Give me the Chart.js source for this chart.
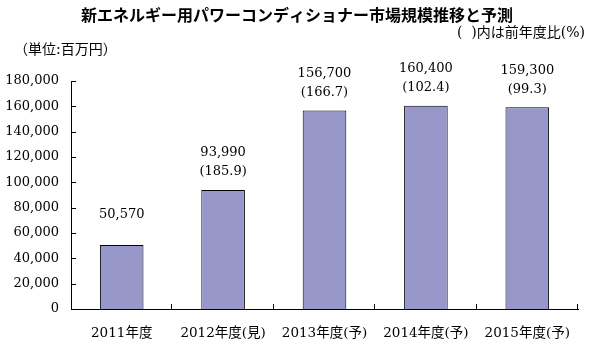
<!DOCTYPE html>
<html>
<head>
<meta charset="utf-8">
<script src="https://cdn.jsdelivr.net/npm/chart.js@4.4.0/dist/chart.umd.min.js"></script>
<style>
  html, body { margin: 0; padding: 0; background: #fff; }
  #wrap { width: 595px; height: 345px; position: relative; }
</style>
</head>
<body>
<div id="wrap"><canvas id="c" width="595" height="345"></canvas></div>
<script>
const titleText = '新エネルギー用パワーコンディショナー市場規模推移と予測';
const unitText = '（単位:百万円）';
const noteText = '(  )内は前年度比(%)';
const categories = ['2011年度', '2012年度(見)', '2013年度(予)', '2014年度(予)', '2015年度(予)'];
const marketSize = [50570, 93990, 156700, 160400, 159300];
const yoyRatio = [null, 185.9, 166.7, 102.4, 99.3];
const yMin = 0, yMax = 180000, yStep = 20000;

const SERIF = "'DejaVu Serif', 'Noto Sans CJK JP', serif";
const SANS = "'Noto Sans CJK JP', sans-serif";

const decorPlugin = {
  id: 'decor',
  afterDraw(chart) {
    const ctx = chart.ctx;
    const xs = chart.scales.x, ys = chart.scales.y;
    const area = chart.chartArea;
    ctx.save();
    // inside tick marks
    ctx.strokeStyle = '#000';
    ctx.lineWidth = 1;
    ctx.beginPath();
    ys.ticks.forEach(t => {
      const y = Math.round(ys.getPixelForValue(t.value)) + 0.5;
      ctx.moveTo(area.left, y);
      ctx.lineTo(area.left + 5, y);
    });
    const n = categories.length;
    const half = (xs.getPixelForValue(1) - xs.getPixelForValue(0)) / 2;
    for (let i = 0; i < n; i++) {
      const x = Math.round(xs.getPixelForValue(i) + half) - 0.5;
      ctx.moveTo(x, area.bottom);
      ctx.lineTo(x, area.bottom - 5);
    }
    ctx.stroke();

    // value labels
    const meta = chart.getDatasetMeta(0);
    ctx.fillStyle = '#000';
    ctx.textAlign = 'center';
    ctx.textBaseline = 'middle';
    ctx.font = '13px ' + SERIF;
    meta.data.forEach((el, i) => {
      const v = marketSize[i].toLocaleString('en-US');
      const r = yoyRatio[i];
      if (r != null) {
        ctx.fillText(v, el.x, el.y - 37);
        ctx.fillText('(' + r.toFixed(1) + ')', el.x, el.y - 18);
      } else {
        ctx.fillText(v, el.x, el.y - 30);
      }
    });

    // title & notes
    ctx.font = 'bold 16px ' + SANS;
    ctx.fillText(titleText, 297, 15);
    ctx.font = '14px ' + SERIF;
    ctx.textAlign = 'left';
    ctx.fillText(unitText, 14, 50);
    ctx.textAlign = 'right';
    ctx.fillText(noteText, 585, 33);
    ctx.restore();
  }
};

new Chart(document.getElementById('c'), {
  type: 'bar',
  data: {
    labels: categories,
    datasets: [{
      data: marketSize,
      backgroundColor: '#9797C9',
      borderColor: '#000',
      borderWidth: 1,
      borderSkipped: 'bottom',
      barPercentage: 0.43,
      categoryPercentage: 1.0
    }]
  },
  options: {
    responsive: false,
    animation: false,
    devicePixelRatio: 1,
    layout: { padding: { top: 81, right: 17, left: 0, bottom: 0 } },
    plugins: { legend: { display: false }, tooltip: { enabled: false }, title: { display: false } },
    scales: {
      x: {
        grid: { display: false, drawTicks: false },
        border: { display: true, color: '#000', width: 1 },
        ticks: { color: '#000', font: { family: SERIF, size: 13.5 }, padding: 16, maxRotation: 0, autoSkip: false },
        afterFit(s) { s.height = 36; }
      },
      y: {
        min: yMin, max: yMax,
        grid: { display: false, drawTicks: false },
        border: { display: true, color: '#000', width: 1 },
        ticks: {
          stepSize: yStep, color: '#000', padding: 12,
          font: { family: SERIF, size: 13 },
          callback: v => Number(v).toLocaleString('en-US')
        },
        afterFit(s) { s.width = 71; }
      }
    }
  },
  plugins: [decorPlugin]
});
</script>
</body>
</html>
